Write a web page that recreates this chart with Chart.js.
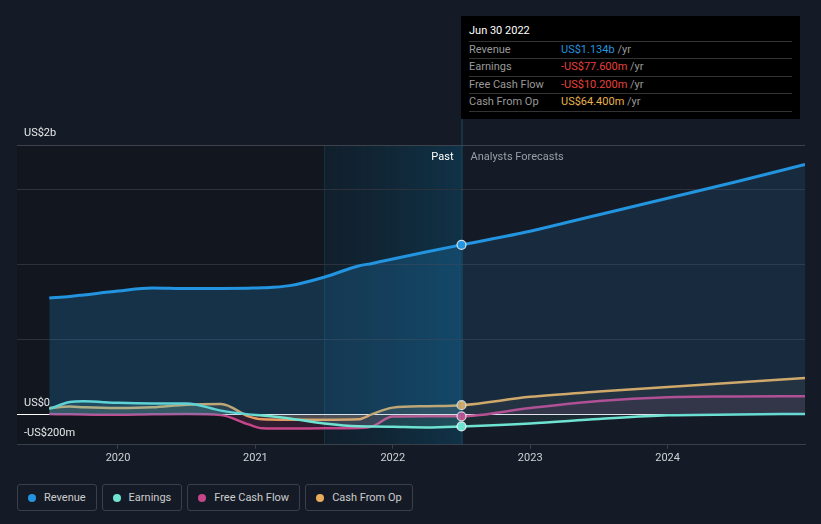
<!DOCTYPE html>
<html>
<head>
<meta charset="utf-8">
<script src="https://cdn.jsdelivr.net/npm/chart.js@4.4.1/dist/chart.umd.min.js"></script>
<style>
    body {
        margin: 0;
        background: #151b26;
        font-family: Roboto, "Noto Sans", sans-serif;
    }
    .wrap {
        position: relative;
        width: 821px;
        height: 524px;
        overflow: hidden;
    }
    canvas {
        position: absolute;
        left: 0;
        top: 0;
    }
    .tip {
        position: absolute;
        left: 461px;
        top: 16px;
        width: 339px;
        height: 103px;
        background: #000;
        font-size: 11px;
        color: #999;
    }
    .tip .title {
        position: absolute;
        left: 8px;
        top: 8px;
        color: #fff;
        font-size: 11px;
    }
    .tip .row {
        position: absolute;
        left: 8px;
        width: 323px;
        height: 17px;
        border-top: 1px solid #333;
        line-height: 16px;
    }
    .tip .row span.v {
        position: absolute;
        left: 92px;
    }
    .tip .unit { color: #999; }
    .legend {
        position: absolute;
        left: 17px;
        top: 484px;
        display: flex;
        gap: 5px;
    }
    .legend .item {
        height: 25px;
        border: 1px solid #3a3f4a;
        border-radius: 3px;
        padding: 0 10px 0 10px;
        display: flex;
        align-items: center;
        font-size: 11px;
        color: #ccc;
    }
    .legend .dot {
        width: 8px;
        height: 8px;
        border-radius: 50%;
        margin-right: 8px;
    }
</style>
</head>
<body>
<div class="wrap">
    <canvas id="chart" width="821" height="470"></canvas>
    <div class="tip">
        <div class="title">Jun 30 2022</div>
        <div class="row" style="top:25px"><span>Revenue</span><span class="v"><span style="color:#2394df">US$1.134b</span> <span class="unit">/yr</span></span></div>
        <div class="row" style="top:42px"><span>Earnings</span><span class="v"><span style="color:#e8413a">-US$77.600m</span> <span class="unit">/yr</span></span></div>
        <div class="row" style="top:60px"><span>Free Cash Flow</span><span class="v"><span style="color:#e8413a">-US$10.200m</span> <span class="unit">/yr</span></span></div>
        <div class="row" style="top:77px;border-bottom:1px solid #333"><span>Cash From Op</span><span class="v"><span style="color:#e9b04f">US$64.400m</span> <span class="unit">/yr</span></span></div>
    </div>
    <div class="legend">
        <div class="item"><span class="dot" style="background:#2394df"></span>Revenue</div>
        <div class="item"><span class="dot" style="background:#6fe3d2"></span>Earnings</div>
        <div class="item"><span class="dot" style="background:#c5478a"></span>Free Cash Flow</div>
        <div class="item"><span class="dot" style="background:#e9ac5a"></span>Cash From Op</div>
    </div>
</div>
<script>
// values in US$ millions, x in decimal years
const years = [2019.5, 2019.65, 2019.75, 2020, 2020.25, 2020.5, 2020.75, 2020.95, 2021.05, 2021.25, 2021.5, 2021.75, 2021.85, 2022, 2022.25, 2022.5, 2023, 2023.5, 2024, 2024.5, 2025];
const revenue = [779, 790, 800, 826, 846, 842, 843, 845, 847, 862, 918, 993, 1010, 1040, 1088, 1134, 1225, 1335, 1445, 1555, 1670];
const earnings = [40, 85, 90, 80, 76, 76, 28, 3, -5, -25, -58, -77, -78, -80, -84, -77.6, -58, -28, -3, 2, 6];
const freeCashFlow = [5, 3, 2, 0, 3, 5, -2, -64, -90, -92, -90, -88, -77, -12, -10, -10.2, 45, 92, 117, 122, 124];
const cashFromOp = [45, 55, 50, 45, 50, 68, 72, -10, -30, -33, -33, -30, 5, 48, 58, 64.4, 120, 155, 185, 215, 246];

const yTicks = [-200, 0, 500, 1000, 1500, 1800];
const xTicks = [2020, 2021, 2022, 2023, 2024];
const pastEnd = 2022.5;
const highlightStart = 2021.5;

function series(values) {
    return values.map((v, i) => ({ x: years[i], y: v }));
}

function makeDataset(label, values, color, fillPast, fillFuture, width) {
    return {
        label: label,
        data: series(values),
        borderColor: color,
        borderWidth: width,
        fill: 'origin',
        backgroundColor: fillFuture,
        segment: {
            backgroundColor: ctx => ctx.p1.parsed.x <= pastEnd ? fillPast : fillFuture
        },
        cubicInterpolationMode: 'monotone',
        pointRadius: ctx => ctx.raw && ctx.raw.x === pastEnd ? 4.5 : 0,
        pointBackgroundColor: color,
        pointBorderColor: 'rgba(255,255,255,0.8)',
        pointBorderWidth: 1.2
    };
}

const regionsPlugin = {
    id: 'regions',
    beforeDraw(chart) {
        const { ctx, chartArea, scales } = chart;
        const xs = scales.x.getPixelForValue(highlightStart);
        const xe = scales.x.getPixelForValue(pastEnd);
        ctx.save();
        ctx.fillStyle = 'rgba(0,0,0,0.16)';
        ctx.fillRect(chartArea.left, chartArea.top, xs - chartArea.left, chartArea.bottom - chartArea.top);
        const g = ctx.createLinearGradient(xs, 0, xe, 0);
        g.addColorStop(0, 'rgba(10,40,55,0.35)');
        g.addColorStop(1, 'rgba(12,70,100,0.55)');
        ctx.fillStyle = g;
        ctx.fillRect(xs, chartArea.top, xe - xs, chartArea.bottom - chartArea.top);
        ctx.strokeStyle = 'rgba(40,90,110,0.35)';
        ctx.lineWidth = 1;
        ctx.beginPath();
        ctx.moveTo(xs + 0.5, chartArea.top);
        ctx.lineTo(xs + 0.5, chartArea.bottom);
        ctx.stroke();
        ctx.restore();
    },
    beforeDatasetsDraw(chart) {
        const { ctx, chartArea, scales } = chart;
        const xe = scales.x.getPixelForValue(pastEnd);
        ctx.save();
        ctx.strokeStyle = 'rgba(30,110,140,0.6)';
        ctx.lineWidth = 1;
        ctx.beginPath();
        ctx.moveTo(xe + 0.5, 16);
        ctx.lineTo(xe + 0.5, chartArea.bottom);
        ctx.stroke();
        ctx.restore();
    },
    afterDraw(chart) {
        const { ctx, chartArea, scales } = chart;
        const xe = scales.x.getPixelForValue(pastEnd);
        ctx.save();
        ctx.font = '11px Roboto, "Noto Sans", sans-serif';
        ctx.textBaseline = 'middle';
        ctx.textAlign = 'right';
        ctx.fillStyle = '#ffffff';
        ctx.fillText('Past', xe - 8, chartArea.top + 12);
        ctx.textAlign = 'left';
        ctx.fillStyle = '#9a9ea6';
        ctx.fillText('Analysts Forecasts', xe + 9, chartArea.top + 12);
        ctx.restore();
    }
};

new Chart(document.getElementById('chart'), {
    type: 'line',
    data: {
        datasets: [
            makeDataset('Revenue', revenue, '#2394df', 'rgba(35,148,223,0.22)', 'rgba(35,148,223,0.13)', 3),
            makeDataset('Earnings', earnings, '#6fe3d2', 'rgba(111,227,210,0.16)', 'rgba(111,227,210,0.08)', 2.5),
            makeDataset('Free Cash Flow', freeCashFlow, '#c5478a', 'rgba(197,71,138,0.16)', 'rgba(197,71,138,0.1)', 2.5),
            makeDataset('Cash From Op', cashFromOp, '#e9ac5a', 'rgba(233,172,90,0.14)', 'rgba(233,172,90,0.08)', 2.5)
        ]
    },
    options: {
        responsive: false,
        animation: false,
        layout: {
            padding: { left: 17, right: 16, top: 145, bottom: 2 }
        },
        plugins: {
            legend: { display: false },
            tooltip: { enabled: false }
        },
        scales: {
            x: {
                type: 'linear',
                min: 2019.265,
                max: 2025,
                afterBuildTicks: axis => { axis.ticks = xTicks.map(v => ({ value: v })); },
                border: { color: '#3a3f4a' },
                grid: {
                    drawOnChartArea: false,
                    drawTicks: true,
                    tickLength: 4,
                    color: '#3a3f4a'
                },
                ticks: {
                    color: '#cfd2d6',
                    padding: 3,
                    font: { family: 'Roboto', size: 11 },
                    callback: v => String(v)
                }
            },
            y: {
                type: 'linear',
                min: -200,
                max: 1800,
                afterBuildTicks: axis => { axis.ticks = yTicks.map(v => ({ value: v })); },
                afterFit: axis => { axis.width = 0; },
                border: { display: false },
                grid: {
                    drawTicks: false,
                    color: ctx => {
                        const v = ctx.tick.value;
                        if (v === 0) return '#ffffff';
                        if (v === -200) return 'rgba(0,0,0,0)';
                        if (v === 1800) return '#3c414b';
                        return '#2c313b';
                    }
                },
                ticks: {
                    mirror: true,
                    padding: 7,
                    labelOffset: -12,
                    color: '#e6e8ea',
                    font: { family: 'Roboto', size: 11 },
                    callback: v => {
                        if (v === 1800) return 'US$2b';
                        if (v === 0) return 'US$0';
                        if (v === -200) return '-US$200m';
                        return '';
                    }
                }
            }
        }
    },
    plugins: [regionsPlugin]
});
</script>
</body>
</html>
